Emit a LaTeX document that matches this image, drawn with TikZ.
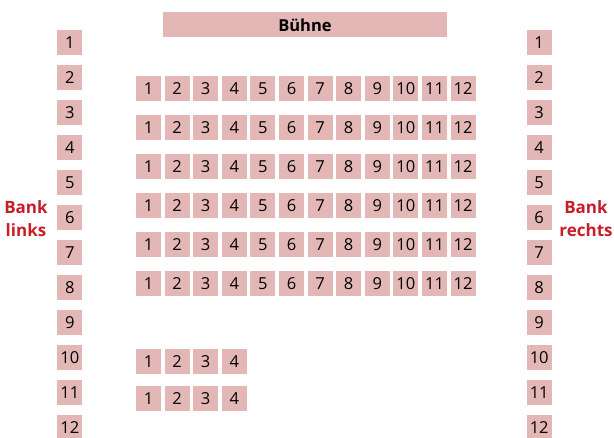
\documentclass[tikz,border=0pt]{standalone}
\usepackage{fontspec}
\setmainfont{Open Sans}
\definecolor{seatfill}{RGB}{228,183,183}
\definecolor{benchred}{RGB}{200,30,40}

\begin{document}
\begin{tikzpicture}[x=1pt, y=-1pt,
  seat/.style={fill=seatfill, minimum width=25pt, minimum height=25pt,
    inner sep=0pt, font=\fontsize{16.5}{16.5}\selectfont},
  benchlabel/.style={text=benchred, align=center,
    font=\fontsize{17}{23}\selectfont\bfseries}]

\useasboundingbox (0,0) rectangle (614,438);
\clip (0,0) rectangle (614,438);

% Stage
\node[seat, minimum width=284pt, font=\fontsize{16.5}{16.5}\selectfont\bfseries]
  (stage) at (305,25) {Bühne};

% Side benches
\foreach \i in {1,...,12} {
  \node[seat] (left\i) at (69.8,{42.5+35*(\i-1)}) {\i};
  \node[seat] (right\i) at (539.2,{42.5+35*(\i-1)}) {\i};
}

% Bench labels
\node[benchlabel] (leftlabel) at (26,219) {Bank\\links};
\node[benchlabel] (rightlabel) at (586,219) {Bank\\rechts};

% Front block: 6 rows of 12 seats
\foreach \r in {1,...,6} {
  \foreach \s in {1,...,12} {
    \node[seat] (row\r-\s) at ({148.5+28.6*(\s-1)},{88.5+39*(\r-1)}) {\s};
  }
}

% Back block: 2 rows of 4 seats
\foreach \r/\y in {7/362,8/399} {
  \foreach \s in {1,...,4} {
    \node[seat] (row\r-\s) at ({148.5+28.6*(\s-1)},\y) {\s};
  }
}

\end{tikzpicture}
\end{document}
